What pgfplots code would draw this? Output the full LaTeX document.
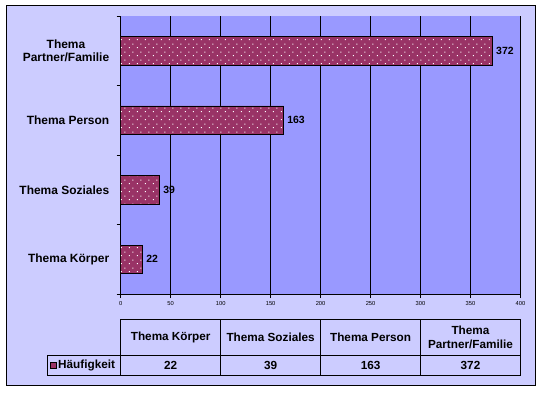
\documentclass[border=0pt]{standalone}
\usepackage{pgfplots}
\pgfplotsset{compat=1.18}
\usepackage{fontspec}
\setmainfont{Liberation Sans}
\usetikzlibrary{patterns}
\definecolor{bgcol}{HTML}{CCCCFF}
\definecolor{plotcol}{HTML}{9999FF}
\definecolor{barcol}{HTML}{993366}
\pgfdeclarepatternformonly{exdots}{\pgfpointorigin}{\pgfpoint{8bp}{8bp}}{\pgfpoint{8bp}{8bp}}{%
 \pgfpathrectangle{\pgfpoint{1bp}{1bp}}{\pgfpoint{1.1bp}{1.1bp}}%
 \pgfpathrectangle{\pgfpoint{5bp}{5bp}}{\pgfpoint{1.1bp}{1.1bp}}%
 \pgfusepath{fill}}
\pgfplotstableread{
y val
1 22
2 39
3 163
4 372
}\datatab
\begin{document}
\begin{tikzpicture}[x=1bp,y=1bp]
\fill[white] (0,0) rectangle (543,392);
\draw[black, line width=1bp, fill=bgcol] (6.7,386) rectangle (535,6.3);
\begin{axis}[
  at={(120.7bp,98bp)}, anchor=south west,
  scale only axis, width=399.8bp, height=278bp,
  xbar, bar width=28.5bp,
  xmin=0, xmax=400, ymin=0.5, ymax=4.5,
  axis x line=bottom, axis y line=left,
  axis line style={-, black, line width=0.8bp},
  axis background/.style={fill=plotcol},
  xtick={0,50,...,400},
  minor xtick={0,50,...,400},
  ytick={1,2,3,4},
  minor ytick={0.5,1.5,2.5,3.5,4.5},
  yticklabels={Thema K\"orper, Thema Soziales, Thema Person, {Thema\\Partner/Familie}},
  major tick length=0pt, minor tick length=4bp,
  tick align=outside,
  every tick/.style={black, line width=0.8bp},
  minor tick style={black, line width=0.8bp},
  xmajorgrids, major grid style={black, line width=0.8bp},
  /pgf/number format/assume math mode=true,
  xticklabel style={font=\fontsize{5.8}{6}\selectfont, yshift=-4bp},
  yticklabel style={align=center, font=\bfseries\fontsize{12}{13.5}\selectfont, xshift=-8bp},
  nodes near coords,
  nodes near coords style={font=\bfseries\fontsize{10.5}{12}\selectfont, black},
]
\addplot[draw=black, line width=0.8bp, fill=barcol,
  postaction={pattern=exdots, pattern color=white}] table[x=val, y=y] {\datatab};
\end{axis}
% data table
\begin{scope}[line width=0.8bp, black]
\draw (120.7,72.7) rectangle (520.5,16.7);
\draw (47,36.7) -- (520.5,36.7);
\draw (47,36.7) rectangle (120.7,16.7);
\foreach \xx in {220.7,320.6,420.6} \draw (\xx,72.7) -- (\xx,16.7);
\end{scope}
\begin{scope}[font=\bfseries\fontsize{11.8}{13.5}\selectfont]
\node at (170.7,54.7) {Thema K\"orper};
\node at (270.6,54.7) {Thema Soziales};
\node at (370.6,54.7) {Thema Person};
\node[align=center] at (470.5,54.7) {Thema\\Partner/Familie};
\node at (170.7,26.7) {22};
\node at (270.6,26.7) {39};
\node at (370.6,26.7) {163};
\node at (470.5,26.7) {372};
\node[anchor=west, inner sep=0pt] at (58,26.7) {H\"aufigkeit};
\end{scope}
\draw[black, line width=0.6bp, fill=barcol] (50,23.7) rectangle (56,29.7);
\end{tikzpicture}
\end{document}
